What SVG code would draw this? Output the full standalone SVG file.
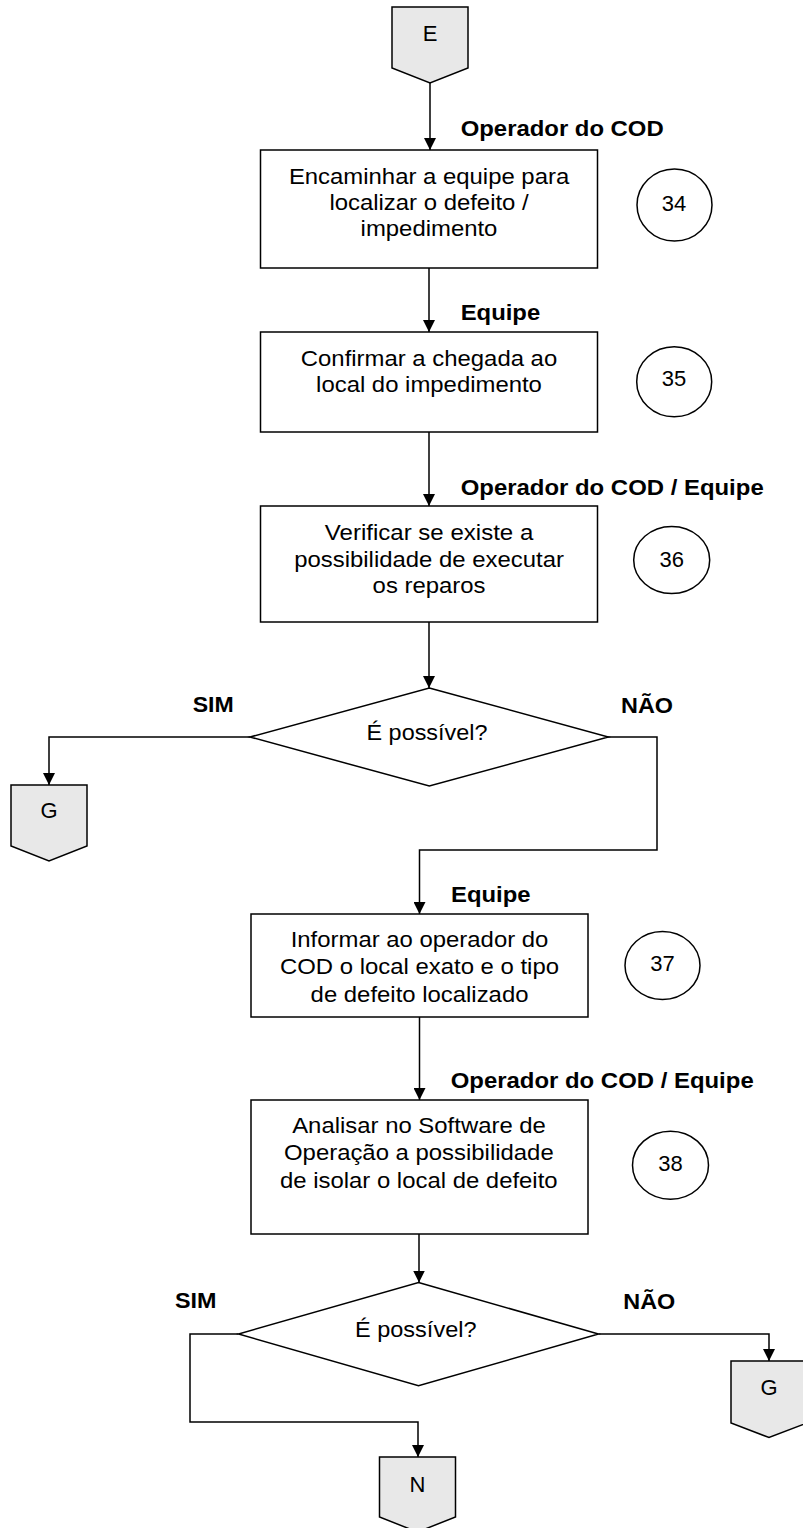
<svg xmlns="http://www.w3.org/2000/svg" width="803" height="1528" viewBox="0 0 803 1528">
<defs>
<style>
.box{fill:#fff;stroke:#000;stroke-width:1.5}
.off{fill:#e8e8e8;stroke:#000;stroke-width:1.5}
.ell{fill:#fff;stroke:#000;stroke-width:1.5}
.t{font-family:"Liberation Sans",Arial,Helvetica,sans-serif;font-size:22px;fill:#000}
.b{font-family:"Liberation Sans",Arial,Helvetica,sans-serif;font-size:22px;font-weight:bold;fill:#000}
.c{text-anchor:middle}
.ln{fill:none;stroke:#000;stroke-width:1.5}
</style>
<marker id="ah" markerUnits="userSpaceOnUse" markerWidth="12" markerHeight="12" refX="12" refY="6" orient="auto">
<path d="M0,0 L12,6 L0,12 Z" fill="#000"/>
</marker>
</defs>
<rect width="803" height="1528" fill="#fff"/>

<g id="connectors">
<path class="ln" d="M430,83 V150" marker-end="url(#ah)"/>
<path class="ln" d="M429,268 V332" marker-end="url(#ah)"/>
<path class="ln" d="M429,432 V506" marker-end="url(#ah)"/>
<path class="ln" d="M429,622 V688" marker-end="url(#ah)"/>
<path class="ln" d="M250,737 H49 V785" marker-end="url(#ah)"/>
<path class="ln" d="M608,737 H657 V850 H419.5 V914" marker-end="url(#ah)"/>
<path class="ln" d="M419.5,1017 V1100" marker-end="url(#ah)"/>
<path class="ln" d="M419,1234 V1282.5" marker-end="url(#ah)"/>
<path class="ln" d="M238.5,1334 H190 V1422 H418 V1457" marker-end="url(#ah)"/>
<path class="ln" d="M598.5,1334 H769 V1361" marker-end="url(#ah)"/>
</g>

<g id="labels">
<text class="b" x="460.7" y="135.5" textLength="203" lengthAdjust="spacingAndGlyphs">Operador do COD</text>
<text class="b" x="460.7" y="320" textLength="79.5" lengthAdjust="spacingAndGlyphs">Equipe</text>
<text class="b" x="460.7" y="495" textLength="303" lengthAdjust="spacingAndGlyphs">Operador do COD / Equipe</text>
<text class="b" x="192.7" y="711.7" textLength="41" lengthAdjust="spacingAndGlyphs">SIM</text>
<text class="b" x="621" y="713" textLength="52" lengthAdjust="spacingAndGlyphs">NÃO</text>
<text class="b" x="451" y="901.5" textLength="79.5" lengthAdjust="spacingAndGlyphs">Equipe</text>
<text class="b" x="450.7" y="1087.5" textLength="303" lengthAdjust="spacingAndGlyphs">Operador do COD / Equipe</text>
<text class="b" x="175" y="1308.3" textLength="41.5" lengthAdjust="spacingAndGlyphs">SIM</text>
<text class="b" x="623.3" y="1309.3" textLength="52" lengthAdjust="spacingAndGlyphs">NÃO</text>
</g>

<g id="off-E">
<path class="off" d="M392,7 H468 V68 L430,83 L392,68 Z"/>
<text class="t c" x="430" y="40.7">E</text>
</g>

<g id="step-34">
<rect class="box" x="260.5" y="150" width="337" height="118"/>
<text class="t" x="288.9" y="184" textLength="280.3" lengthAdjust="spacingAndGlyphs">Encaminhar a equipe para</text>
<text class="t" x="329.4" y="210" textLength="199.3" lengthAdjust="spacingAndGlyphs">localizar o defeito /</text>
<text class="t" x="360.6" y="236" textLength="136.8" lengthAdjust="spacingAndGlyphs">impedimento</text>
</g>
<g id="num-34">
<ellipse class="ell" cx="674.5" cy="205" rx="37.5" ry="36"/>
<text class="t c" x="674" y="210.5">34</text>
</g>

<g id="step-35">
<rect class="box" x="260.5" y="332" width="337" height="100"/>
<text class="t" x="300.8" y="365.5" textLength="256.4" lengthAdjust="spacingAndGlyphs">Confirmar a chegada ao</text>
<text class="t" x="316.1" y="391.5" textLength="225.8" lengthAdjust="spacingAndGlyphs">local do impedimento</text>
</g>
<g id="num-35">
<ellipse class="ell" cx="674.2" cy="381.7" rx="37.5" ry="35"/>
<text class="t c" x="674" y="385.5">35</text>
</g>

<g id="step-36">
<rect class="box" x="260.5" y="506" width="337" height="116"/>
<text class="t" x="324.8" y="540" textLength="208.5" lengthAdjust="spacingAndGlyphs">Verificar se existe a</text>
<text class="t" x="294.2" y="566.5" textLength="269.7" lengthAdjust="spacingAndGlyphs">possibilidade de executar</text>
<text class="t" x="372.6" y="593" textLength="112.9" lengthAdjust="spacingAndGlyphs">os reparos</text>
</g>
<g id="num-36">
<ellipse class="ell" cx="671.7" cy="560" rx="38" ry="33.5"/>
<text class="t c" x="671.7" y="566.7">36</text>
</g>

<g id="decision-1">
<polygon class="box" points="429.3,688 608.3,737 429.3,786 250,737"/>
<text class="t" x="366.5" y="740" textLength="121" lengthAdjust="spacingAndGlyphs">É possível?</text>
</g>

<g id="off-G1">
<path class="off" d="M11,785 H87 V846 L49,861 L11,846 Z"/>
<text class="t c" x="49" y="818.3">G</text>
</g>

<g id="step-37">
<rect class="box" x="251" y="914" width="337" height="103"/>
<text class="t" x="290.7" y="946.5" textLength="257.7" lengthAdjust="spacingAndGlyphs">Informar ao operador do</text>
<text class="t" x="280" y="974" textLength="279" lengthAdjust="spacingAndGlyphs">COD o local exato e o tipo</text>
<text class="t" x="310.6" y="1001.5" textLength="217.9" lengthAdjust="spacingAndGlyphs">de defeito localizado</text>
</g>
<g id="num-37">
<ellipse class="ell" cx="662.5" cy="965.5" rx="37.5" ry="34"/>
<text class="t c" x="662.5" y="970.7">37</text>
</g>

<g id="step-38">
<rect class="box" x="251" y="1100" width="337" height="134"/>
<text class="t" x="292.2" y="1132.5" textLength="253.7" lengthAdjust="spacingAndGlyphs">Analisar no Software de</text>
<text class="t" x="284" y="1160" textLength="269.7" lengthAdjust="spacingAndGlyphs">Operação a possibilidade</text>
<text class="t" x="280" y="1187.5" textLength="277.6" lengthAdjust="spacingAndGlyphs">de isolar o local de defeito</text>
</g>
<g id="num-38">
<ellipse class="ell" cx="670.5" cy="1165.2" rx="38" ry="34"/>
<text class="t c" x="670.5" y="1170.5">38</text>
</g>

<g id="decision-2">
<polygon class="box" points="418.5,1282.5 598.5,1334 418.5,1385.7 238.5,1334"/>
<text class="t" x="355" y="1336.7" textLength="121.5" lengthAdjust="spacingAndGlyphs">É possível?</text>
</g>

<g id="off-G2">
<path class="off" d="M731,1361 H807 V1423 L769,1437.5 L731,1423 Z"/>
<text class="t c" x="769" y="1395">G</text>
</g>

<g id="off-N">
<path class="off" d="M379.5,1457 H455.5 V1517 L417.5,1532 L379.5,1517 Z"/>
<text class="t c" x="417.5" y="1491.7">N</text>
</g>
</svg>
